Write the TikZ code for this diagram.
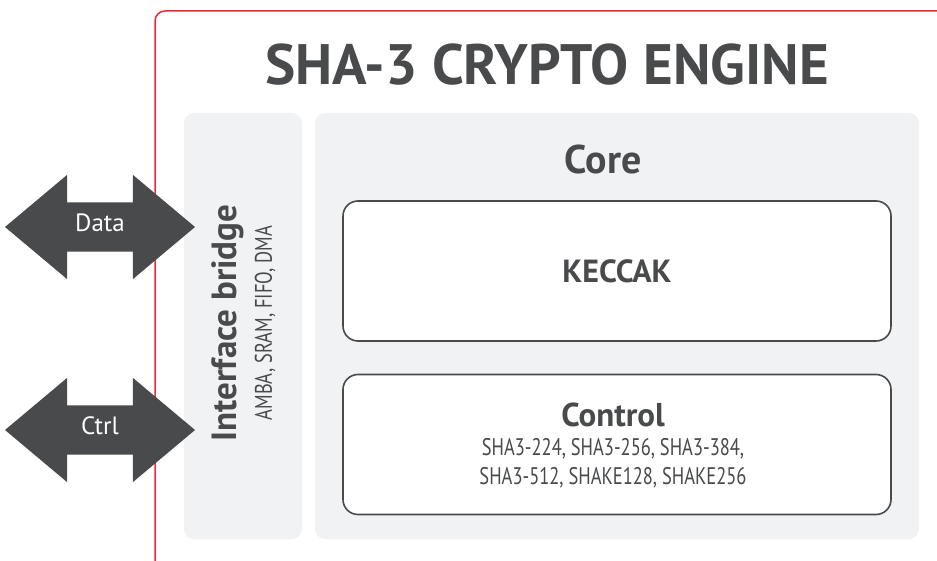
\documentclass[tikz,border=0pt]{standalone}
\usepackage{fontspec}
\setmainfont{PT Sans}
\newfontfamily\condfont[FakeStretch=0.77]{PT Sans}
\usepackage{xcolor}
\usepackage{tikz}
\usetikzlibrary{shapes.arrows, positioning}

\definecolor{inkgray}{HTML}{484A4C}
\definecolor{panelgray}{HTML}{F1F2F4}
\definecolor{framered}{HTML}{EE2A38}

\begin{document}
\begin{tikzpicture}[
  x=1pt, y=-1pt,
  panel/.style={fill=panelgray, rounded corners=10pt, inner sep=0pt, minimum height=426pt},
  subbox/.style={draw=inkgray, line width=1.6pt, fill=white, rounded corners=15pt,
    minimum width=548pt, minimum height=140pt, inner sep=0pt},
  dblarrow/.style={double arrow, fill=inkgray, text=white, minimum height=190pt,
    double arrow head extend=27.5pt, double arrow tip angle=80,
    text height=13pt, text depth=4pt, inner ysep=16pt, font=\fontsize{25}{28}\selectfont},
  heading/.style={text=inkgray, font=\bfseries\fontsize{#1}{#1}\selectfont},
  small/.style={text=inkgray, font=\condfont\fontsize{24}{29}\selectfont}
]
  \useasboundingbox (0,0) rectangle (937,561);
  \begin{scope}
    \clip (0,0) rectangle (937,561);
    \draw[framered, line width=1.5pt, rounded corners=10pt] (155,11) rectangle (990,575);
  \end{scope}

  % title and panels
  \node[heading=57] (title) at (547,65) {SHA-3 CRYPTO ENGINE};
  \node[panel, minimum width=118pt] (bridge) at (243,326) {};
  \node[panel, minimum width=604pt] (core) at (617,326) {};

  \node[heading=40] (coretitle) at (603,160) {Core};
  \node[subbox] (keccak) at (617,271) {};
  \node[heading=32] (keccaklbl) at (keccak) {KECCAK};
  \node[subbox] (control) at (617,444.5) {};
  \node[heading=33] (controllbl) at (613,415) {Control};
  \node[small, align=center, below=4pt of controllbl] (algos)
    {SHA3-224, SHA3-256, SHA3-384,\\SHA3-512, SHAKE128, SHAKE256};

  % interface bridge labels
  \node[heading=35, rotate=90] (bridgelbl) at (228,323) {Interface bridge};
  \node[small, rotate=90] (buses) at (265,323) {AMBA, SRAM, FIFO, DMA};

  % external ports
  \node[dblarrow] (data) at (100,227) {Data};
  \node[dblarrow] (ctrl) at (100,430) {Ctrl};
\end{tikzpicture}
\end{document}
